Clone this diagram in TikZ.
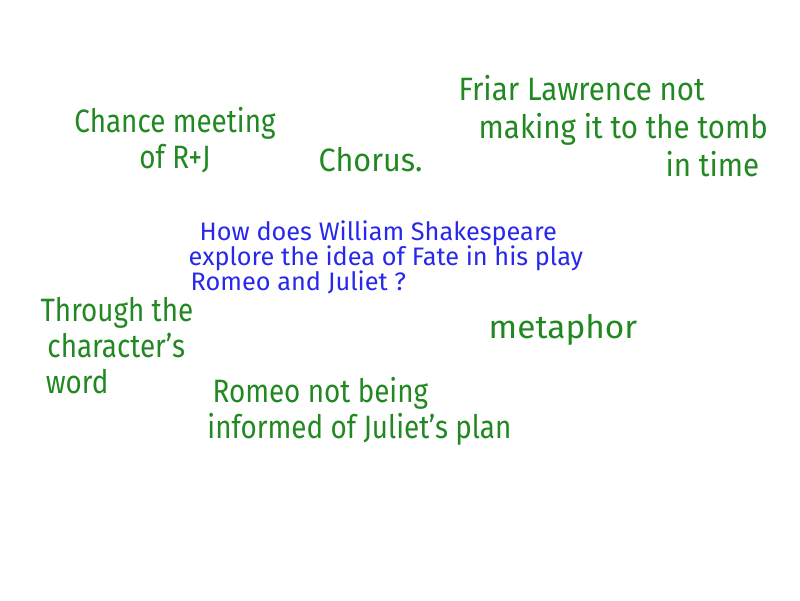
\documentclass[tikz,border=0pt]{standalone}
\usepackage{fontspec}
\setmainfont{Fira Sans}
\usepackage{tikz}

\definecolor{penGreen}{RGB}{34,136,34}
\definecolor{penBlue}{RGB}{40,40,235}
\newcommand{\tightlines}{\setlength{\lineskiplimit}{-5pt}}

\begin{document}
\begin{tikzpicture}[
    idea/.style={text=penGreen,
      font=\tightlines\fontsize{9.2}{10.2}\selectfont,
      inner sep=0pt,anchor=north west,align=left,xscale=0.86,transform shape},
    question/.style={text=penBlue,
      font=\tightlines\fontsize{7.2}{7.1}\selectfont,
      inner sep=0pt,anchor=north west,align=left}]
  \useasboundingbox (0,0) rectangle (8,6);
  % the question in the middle
  \node[question] (question) at (1.88,3.8)
    {\hspace*{0.11cm}How does William Shakespeare\\
     explore the idea of Fate in his play\\
     \hspace*{0.02cm}Romeo and Juliet ?};
  % ideas round it
  \node[idea,anchor=north,align=center] (chance) at (1.75,4.93)
    {Chance meeting\\ of R+J};
  \node[idea,xscale=1.1] (chorus) at (3.18,4.53) {Chorus.};
  \node[idea,xscale=1.06,font=\tightlines\fontsize{9.2}{10.8}\selectfont]
    (friar) at (4.58,5.25)
    {Friar Lawrence not\\
     \hspace*{0.22cm}making it to the tomb\\
     \hspace*{2.27cm}in time};
  \node[idea] (through) at (0.4,3.03)
    {Through the\\ \hspace*{0.08cm}character's\\ \hspace*{0.06cm}word};
  \node[idea,xscale=1.2] (metaphor) at (4.88,2.86) {metaphor};
  \node[idea] (romeo) at (2.12,2.23)
    {Romeo not being\\ \hspace*{-0.06cm}informed of Juliet's plan};
\end{tikzpicture}
\end{document}
